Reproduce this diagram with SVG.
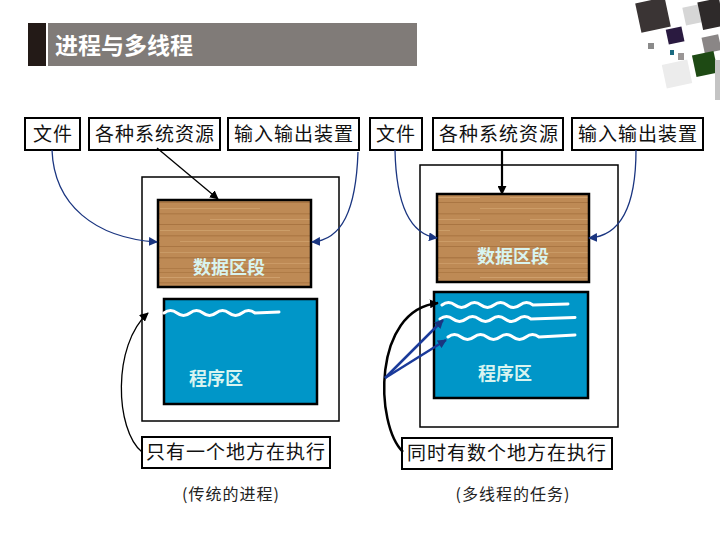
<svg xmlns="http://www.w3.org/2000/svg" width="720" height="540" viewBox="0 0 720 540">
<style>
.box{fill:#fff;stroke:#000;stroke-width:2}
.frame{fill:#fff;stroke:#000;stroke-width:1.5}
.wood{fill:url(#woodpat);stroke:#000;stroke-width:2.5}
.blue{fill:#0096c8;stroke:#000;stroke-width:2.5}
.t{font-family:"Noto Sans CJK SC","Liberation Sans",sans-serif;font-size:19px;letter-spacing:1px;fill:#111}
.lab{font-family:"Noto Sans CJK SC","Liberation Sans",sans-serif;font-size:18px;font-weight:bold;fill:#d8f4f0}
.cap{font-family:"Noto Sans CJK SC","Liberation Sans",sans-serif;font-size:16px;letter-spacing:1px;fill:#222}
.wave{fill:none;stroke:#fff;stroke-width:3;stroke-linecap:round}
.bl{fill:none;stroke:#1a3580;stroke-width:1.3}
.bk{fill:none;stroke:#000;stroke-width:1.3}
</style>
<defs>
<pattern id="woodpat" width="160" height="90" patternUnits="userSpaceOnUse">
<rect width="160" height="90" fill="#be8a55"/>
<rect y="2" width="160" height="1" fill="#a97540" opacity="0.7"/>
<rect y="7" width="120" height="1" fill="#d2a472" opacity="0.8"/>
<rect y="12" width="160" height="1.5" fill="#a5713e" opacity="0.6"/>
<rect x="30" y="17" width="130" height="1" fill="#d6a874" opacity="0.7"/>
<rect y="22" width="160" height="1" fill="#a26e3c" opacity="0.7"/>
<rect y="28" width="100" height="1" fill="#cfa06c" opacity="0.8"/>
<rect y="33" width="160" height="1.5" fill="#a7733f" opacity="0.6"/>
<rect x="50" y="39" width="110" height="1" fill="#d4a672" opacity="0.7"/>
<rect y="44" width="160" height="1" fill="#a06c3a" opacity="0.7"/>
<rect y="50" width="130" height="1" fill="#d0a26e" opacity="0.8"/>
<rect y="55" width="160" height="1.5" fill="#a5713e" opacity="0.6"/>
<rect x="20" y="61" width="140" height="1" fill="#d2a470" opacity="0.7"/>
<rect y="66" width="160" height="1" fill="#a26e3c" opacity="0.7"/>
<rect y="72" width="110" height="1" fill="#cc9e6a" opacity="0.8"/>
<rect y="77" width="160" height="1.5" fill="#a06c3a" opacity="0.6"/>
<rect x="40" y="83" width="120" height="1" fill="#d0a26e" opacity="0.7"/>
<rect y="88" width="160" height="1" fill="#a5713e" opacity="0.6"/>
</pattern>
<marker id="ab" viewBox="0 0 10 10" refX="9" refY="5" markerWidth="9" markerHeight="9" markerUnits="userSpaceOnUse" orient="auto"><path d="M0,0 L10,5 L0,10 z" fill="#1a3580"/></marker>
<marker id="ak" viewBox="0 0 10 10" refX="9" refY="5" markerWidth="9" markerHeight="9" markerUnits="userSpaceOnUse" orient="auto"><path d="M0,0 L10,5 L0,10 z" fill="#000"/></marker>
</defs>
<rect width="720" height="540" fill="#fff"/>

<g id="title">
<rect x="28" y="23" width="18" height="43" fill="#231a17"/>
<rect x="48" y="23" width="369" height="43" fill="#807b78"/>
<text x="55" y="54" font-family="Noto Sans CJK SC, sans-serif" font-size="23" font-weight="bold" fill="#fff">进程与多线程</text>
</g>

<g id="decor">
<rect x="638" y="0" width="30" height="30" fill="#3a3434" transform="rotate(-12 653 15)"/>
<rect x="684" y="6" width="16" height="18" fill="#d6d6d6" transform="rotate(-12 692 15)"/>
<rect x="700" y="0" width="22" height="28" fill="#2e2a2a" transform="rotate(-12 711 14)"/>
<rect x="667" y="28" width="16" height="15" fill="#2a1a40" transform="rotate(-12 675 35)"/>
<rect x="703" y="36" width="17" height="16" fill="#8a8686" transform="rotate(-12 711 44)"/>
<rect x="648" y="43" width="6" height="6" fill="#8a8a8a"/>
<rect x="670" y="50" width="4" height="5" fill="#1a6a80"/>
<rect x="678" y="53" width="6" height="7" fill="#9a9696"/>
<rect x="664" y="62" width="26" height="24" fill="#ececec" transform="rotate(-12 677 74)"/>
<rect x="694" y="53" width="22" height="22" fill="#1e4a14" transform="rotate(-12 705 64)"/>
<rect x="715" y="60" width="5" height="40" fill="#c4c4c4"/>
</g>

<g id="left-frame"><rect class="frame" x="142" y="177" width="197" height="244"/></g>
<g id="left-data"><rect class="wood" x="158" y="200" width="153" height="87"/><text class="lab" x="229" y="274" text-anchor="middle">数据区段</text></g>
<g id="left-prog"><rect class="blue" x="164" y="299" width="153" height="105"/>
<path class="wave" d="M164,313 q6.5,-5 13,0 t13,0 t13,0 t13,0 t13,0 t13,0 t13,0 l24,-1"/>
<text class="lab" x="216" y="385" text-anchor="middle">程序区</text></g>
<g id="left-file"><rect class="box" x="25" y="118" width="55" height="32"/><text class="t" x="53" y="141" text-anchor="middle">文件</text></g>
<g id="left-res"><rect class="box" x="89" y="118" width="131" height="32"/><text class="t" x="155" y="141" text-anchor="middle">各种系统资源</text></g>
<g id="left-io"><rect class="box" x="228" y="118" width="131" height="32"/><text class="t" x="294" y="141" text-anchor="middle">输入输出装置</text></g>
<g id="left-note"><rect class="box" x="142" y="437" width="188" height="31"/><text class="t" x="236" y="459" text-anchor="middle">只有一个地方在执行</text></g>
<g id="left-cap"><text class="cap" x="231" y="500" text-anchor="middle">(传统的进程)</text></g>

<g id="right-frame"><rect class="frame" x="420" y="165" width="198" height="262"/></g>
<g id="right-data"><rect class="wood" x="437" y="194" width="152" height="88"/><text class="lab" x="513" y="263" text-anchor="middle">数据区段</text></g>
<g id="right-prog"><rect class="blue" x="434" y="292" width="154" height="106"/>
<path class="wave" d="M442,305 q6.5,-5 13,0 t13,0 t13,0 t13,0 t13,0 t13,0 t13,0 l35,-1"/>
<path class="wave" d="M440,319 q6.5,-5 13,0 t13,0 t13,0 t13,0 t13,0 t13,0 t13,0 l44,-1.5"/>
<path class="wave" d="M448,337 q6.5,-5 13,0 t13,0 t13,0 t13,0 t13,0 t13,0 t13,0 l36,-2"/>
<text class="lab" x="505" y="380" text-anchor="middle">程序区</text></g>
<g id="right-file"><rect class="box" x="370" y="118" width="52" height="32"/><text class="t" x="396" y="141" text-anchor="middle">文件</text></g>
<g id="right-res"><rect class="box" x="433" y="118" width="130" height="32"/><text class="t" x="499" y="141" text-anchor="middle">各种系统资源</text></g>
<g id="right-io"><rect class="box" x="572" y="118" width="131" height="32"/><text class="t" x="638" y="141" text-anchor="middle">输入输出装置</text></g>
<g id="right-note"><rect class="box" x="402" y="438" width="210" height="31"/><text class="t" x="507" y="460" text-anchor="middle">同时有数个地方在执行</text></g>
<g id="right-cap"><text class="cap" x="513" y="500" text-anchor="middle">(多线程的任务)</text></g>

<g id="connectors">
<path class="bl" d="M52,150 C54,205 95,238 157,242" marker-end="url(#ab)"/>
<path class="bl" d="M358,152 C356,210 342,240 312,242" marker-end="url(#ab)"/>
<path class="bk" d="M157,148 L218,199" marker-end="url(#ak)"/>
<path class="bk" d="M142,452 C115,430 112,345 148,313" marker-end="url(#ak)"/>
<path class="bl" d="M395,150 C396,200 408,234 437,238" marker-end="url(#ab)"/>
<path class="bl" d="M636,150 C636,205 622,236 589,238" marker-end="url(#ab)"/>
<path d="M502,150 L502,194" fill="none" stroke="#000" stroke-width="2.2" marker-end="url(#ak)"/>
<path d="M403,452 C375,425 372,310 438,303" fill="none" stroke="#000" stroke-width="2.5" marker-end="url(#ak)"/>
<path d="M385,378 L443,320" fill="none" stroke="#1a3a9a" stroke-width="2.5" marker-end="url(#ab)"/>
<path d="M385,378 L446,340" fill="none" stroke="#1a3a9a" stroke-width="2.5" marker-end="url(#ab)"/>
</g>
</svg>
